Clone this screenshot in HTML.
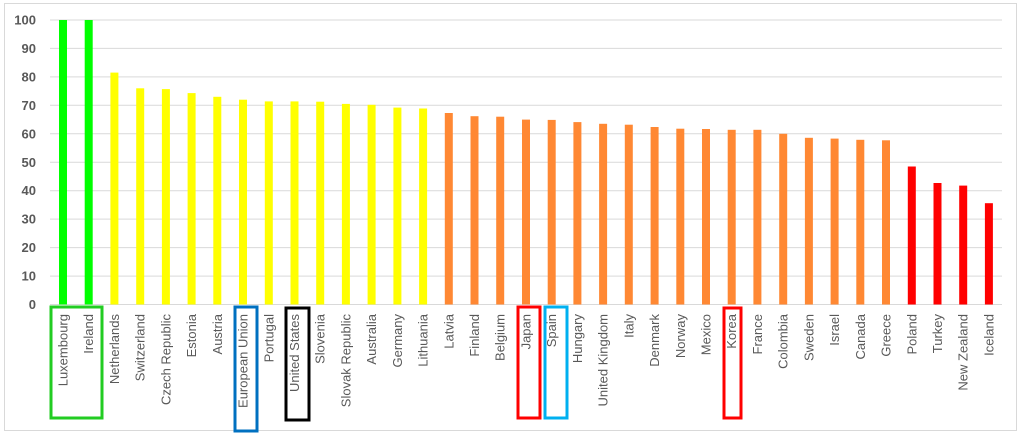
<!DOCTYPE html>
<html><head><meta charset="utf-8"><style>
html,body{margin:0;padding:0;background:#fff;}
svg{display:block;}
.y{font-family:"Liberation Sans",sans-serif;font-size:13px;font-weight:bold;fill:#595959;text-anchor:end;}
.c{font-family:"Liberation Sans",sans-serif;font-size:13px;fill:#595959;text-anchor:end;}
</style></head><body>
<svg width="1024" height="435" viewBox="0 0 1024 435" xmlns="http://www.w3.org/2000/svg">
<rect x="4.5" y="3.5" width="1012" height="427" fill="#fff" stroke="#d9d9d9"/>
<g id="g"></g>
</svg>
<script>
var data=[["Luxembourg",100,"#00ff00"],["Ireland",100,"#00ff00"],["Netherlands",81.5,"#ffff00"],["Switzerland",76,"#ffff00"],["Czech Republic",75.7,"#ffff00"],["Estonia",74.3,"#ffff00"],["Austria",73,"#ffff00"],["European Union",72,"#ffff00"],["Portugal",71.4,"#ffff00"],["United States",71.4,"#ffff00"],["Slovenia",71.3,"#ffff00"],["Slovak Republic",70.5,"#ffff00"],["Australia",70.2,"#ffff00"],["Germany",69.2,"#ffff00"],["Lithuania",68.9,"#ffff00"],["Latvia",67.3,"#ff8833"],["Finland",66.2,"#ff8833"],["Belgium",66,"#ff8833"],["Japan",65,"#ff8833"],["Spain",64.9,"#ff8833"],["Hungary",64.1,"#ff8833"],["United Kingdom",63.5,"#ff8833"],["Italy",63.2,"#ff8833"],["Denmark",62.4,"#ff8833"],["Norway",61.8,"#ff8833"],["Mexico",61.7,"#ff8833"],["Korea",61.4,"#ff8833"],["France",61.4,"#ff8833"],["Colombia",60,"#ff8833"],["Sweden",58.6,"#ff8833"],["Israel",58.3,"#ff8833"],["Canada",57.9,"#ff8833"],["Greece",57.7,"#ff8833"],["Poland",48.5,"#ff0000"],["Turkey",42.7,"#ff0000"],["New Zealand",41.8,"#ff0000"],["Iceland",35.6,"#ff0000"]];
var s='',y0=304.5,k=2.845;
for(var i=0;i<=10;i++){var y=y0-i*10*k;s+='<line x1="50" x2="1002" y1="'+y.toFixed(1)+'" y2="'+y.toFixed(1)+'" stroke="#d9d9d9" stroke-width="1"/>';s+='<text class="y" x="36" y="'+(y+4.5).toFixed(1)+'">'+(i*10)+'</text>';}
data.forEach(function(d,i){var cx=63+i*25.72,h=d[1]*k;s+='<rect x="'+(cx-4).toFixed(1)+'" y="'+(y0-h).toFixed(1)+'" width="8" height="'+h.toFixed(1)+'" fill="'+d[2]+'"/>';s+='<text class="c" transform="translate('+(cx+4.5).toFixed(1)+',314) rotate(-90)">'+d[0]+'</text>';});
function box(x1,y1,x2,y2,c){s+='<rect x="'+x1+'" y="'+y1+'" width="'+(x2-x1)+'" height="'+(y2-y1)+'" fill="none" stroke="'+c+'" stroke-width="3"/>';}
box(51,307,102,418,"#22cc22");box(235,307,257,431,"#0070c0");box(286,308,309,420,"#000");box(518,307,540,418,"#ff0000");box(545,307,567,418,"#00b0f0");box(724,308,741,418,"#ff0000");
document.getElementById('g').innerHTML=s;
</script>
</body></html>
